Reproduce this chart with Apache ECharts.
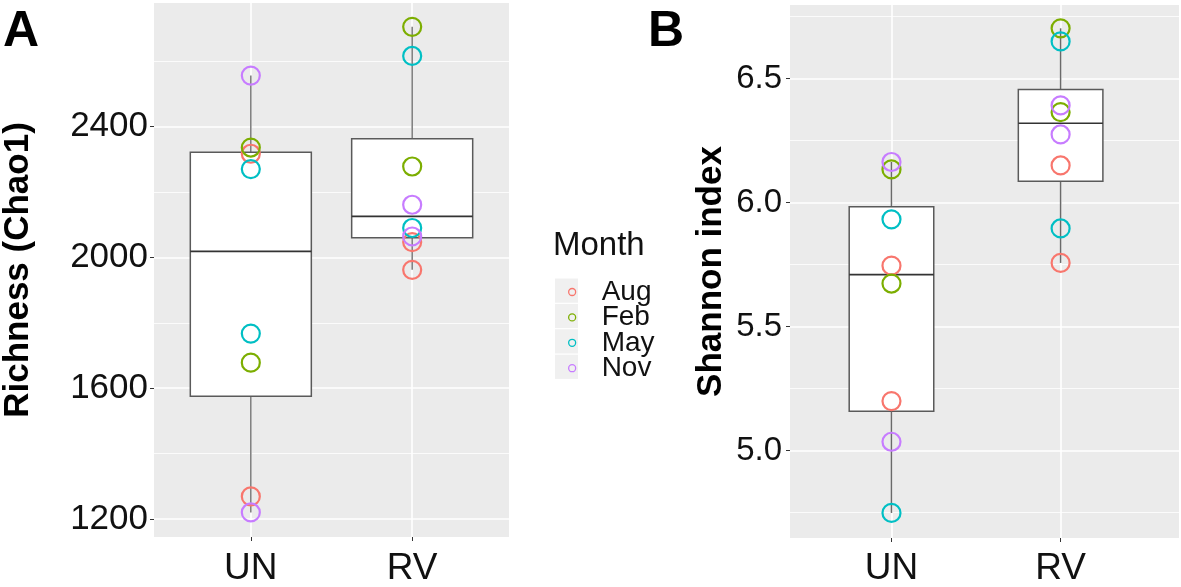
<!DOCTYPE html>
<html><head><meta charset="utf-8">
<script src="https://cdn.jsdelivr.net/npm/echarts@6/dist/echarts.min.js"></script>
<style>html,body{margin:0;padding:0;background:#fff}#c{width:1181px;height:587px}</style>
</head><body><div id="c"></div>
<script>
// ---- data ----
const groups = ['UN', 'RV'];
const months = ['Aug', 'Feb', 'May', 'Nov'];
const monthColors = ['#F8766D', '#7CAE00', '#00BFC4', '#C77CFF'];
// two samples per month, month order: Aug, Feb, May, Nov
const richnessUN = [[2317, 1269], [2336, 1678], [2270, 1767], [2556, 1220]];
const richnessRV = [[2047, 1962], [2705, 2278], [2616, 2090], [2161, 2064]];
const shannonUN = [[5.746, 5.200], [6.134, 5.674], [5.933, 4.749], [6.164, 5.036]];
const shannonRV = [[6.150, 5.757], [6.703, 6.365], [6.650, 5.896], [6.392, 6.275]];
const richnessTicks = [1200, 1600, 2000, 2400];
const richnessMinor = [1400, 1800, 2200, 2600];
const shannonTicks = [5.0, 5.5, 6.0, 6.5];
const shannonMinor = [4.75, 5.25, 5.75, 6.25, 6.75];

const FONT = '"Liberation Sans", Arial, sans-serif';

function quantile(s, p) {
  const h = (s.length - 1) * p, lo = Math.floor(h);
  const hiV = lo + 1 < s.length ? s[lo + 1] : s[lo];
  return s[lo] + (h - lo) * (hiV - s[lo]);
}
function boxStats(x, pairs) {
  const v = pairs.flat().slice().sort((a, b) => a - b);
  const q1 = quantile(v, 0.25), med = quantile(v, 0.5), q3 = quantile(v, 0.75);
  const iqr = q3 - q1;
  const lo = Math.min(...v.filter(d => d >= q1 - 1.5 * iqr));
  const hi = Math.max(...v.filter(d => d <= q3 + 1.5 * iqr));
  return [x, lo, q1, med, q3, hi];
}
function makeBoxRenderer(boxW, whiskerColor) {
  return function (params, api) {
    const x = api.value(0);
    const lo = api.coord([x, api.value(1)]);
    const q1 = api.coord([x, api.value(2)]);
    const md = api.coord([x, api.value(3)]);
    const q3 = api.coord([x, api.value(4)]);
    const hi = api.coord([x, api.value(5)]);
    const w = api.size([boxW, 0])[0];
    const cx = q1[0];
    return {
      type: 'group',
      children: [
        { type: 'line', shape: { x1: cx, y1: lo[1], x2: cx, y2: q1[1] }, style: { stroke: whiskerColor, lineWidth: 1.5 } },
        { type: 'line', shape: { x1: cx, y1: q3[1], x2: cx, y2: hi[1] }, style: { stroke: whiskerColor, lineWidth: 1.5 } },
        { type: 'rect', shape: { x: cx - w / 2, y: q3[1], width: w, height: q1[1] - q3[1] }, style: { fill: '#ffffff', stroke: '#5a5a5a', lineWidth: 1.5 } },
        { type: 'line', shape: { x1: cx - w / 2, y1: md[1], x2: cx + w / 2, y2: md[1] }, style: { stroke: '#333333', lineWidth: 1.6 } }
      ]
    };
  };
}
function gridLines(major, minor, xs) {
  const d = [];
  minor.forEach(v => d.push({ yAxis: v, lineStyle: { width: 0.8 } }));
  major.forEach(v => d.push({ yAxis: v, lineStyle: { width: 1.6 } }));
  xs.forEach(v => d.push({ xAxis: v, lineStyle: { width: 1.6 } }));
  return d;
}

const panels = [
  { un: richnessUN, rv: richnessRV, boxW: 0.75, whisker: '#7a7a7a', major: richnessTicks, minor: richnessMinor },
  { un: shannonUN, rv: shannonRV, boxW: 0.5, whisker: '#6a6a6a', major: shannonTicks, minor: shannonMinor }
];

const series = [];
panels.forEach((p, gi) => {
  series.push({
    type: 'custom',
    name: 'box' + gi,
    xAxisIndex: gi, yAxisIndex: gi,
    z: 2,
    silent: true,
    renderItem: makeBoxRenderer(p.boxW, p.whisker),
    encode: { x: 0, y: [1, 2, 3, 4, 5] },
    data: [boxStats(1, p.un), boxStats(2, p.rv)],
    markLine: {
      z: 1, silent: true, animation: false, symbol: ['none', 'none'],
      label: { show: false },
      lineStyle: { color: '#ffffff', type: 'solid', width: 1.6 },
      emphasis: { disabled: true },
      data: gridLines(p.major, p.minor, [1, 2])
    }
  });
  months.forEach((m, mi) => {
    const pts = [];
    p.un[mi].forEach(v => pts.push([1, v]));
    p.rv[mi].forEach(v => pts.push([2, v]));
    series.push({
      type: 'scatter', name: m, xAxisIndex: gi, yAxisIndex: gi, z: 3,
      symbol: 'circle', symbolSize: 18,
      itemStyle: { color: 'rgba(0,0,0,0)', borderColor: monthColors[mi], borderWidth: 2.2, opacity: 1 },
      data: pts
    });
  });
});

const xAxisCommon = {
  type: 'value',
  axisLine: { show: false },
  splitLine: { show: false },
  axisTick: { show: true, customValues: [1, 2], length: 4, lineStyle: { color: '#333' } },
  axisLabel: {
    customValues: [1, 2], fontSize: 37, color: '#111', fontFamily: FONT,
    formatter: v => groups[Math.round(v) - 1] || ''
  }
};

const option = {
  animation: false,
  grid: [
    { left: 154, top: 3, width: 355, height: 535, show: true, backgroundColor: '#EBEBEB', borderWidth: 0 },
    { left: 790, top: 5, width: 389, height: 536, show: true, backgroundColor: '#EBEBEB', borderWidth: 0 }
  ],
  xAxis: [
    Object.assign({}, xAxisCommon, { gridIndex: 0, min: 0.4, max: 2.6, axisLabel: Object.assign({}, xAxisCommon.axisLabel, { margin: 13 }) }),
    Object.assign({}, xAxisCommon, { gridIndex: 1, min: 0.4, max: 2.7, axisLabel: Object.assign({}, xAxisCommon.axisLabel, { margin: 12 }) })
  ],
  yAxis: [
    {
      type: 'value', gridIndex: 0, min: 1145, max: 2778,
      name: 'Richness (Chao1)', nameLocation: 'middle', nameGap: 118,
      nameTextStyle: { fontSize: 35, fontWeight: 'bold', color: '#000', fontFamily: FONT },
      axisLine: { show: false }, splitLine: { show: false },
      axisTick: { show: true, customValues: richnessTicks, length: 4, lineStyle: { color: '#333' } },
      axisLabel: { customValues: richnessTicks, fontSize: 35, color: '#111', fontFamily: FONT, margin: 6,
        formatter: v => String(Math.round(v)) }
    },
    {
      type: 'value', gridIndex: 1, min: 4.648, max: 6.797,
      name: 'Shannon index', nameLocation: 'middle', nameGap: 61,
      nameTextStyle: { fontSize: 35, fontWeight: 'bold', color: '#000', fontFamily: FONT },
      axisLine: { show: false }, splitLine: { show: false },
      axisTick: { show: true, customValues: shannonTicks, length: 4, lineStyle: { color: '#333' } },
      axisLabel: { customValues: shannonTicks, fontSize: 33, color: '#111', fontFamily: FONT, margin: 8,
        formatter: v => v.toFixed(1) }
    }
  ],
  legend: {
    data: months,
    orient: 'vertical', left: 563, top: 273,
    itemWidth: 7, itemHeight: 7, itemGap: -2.6,
    icon: 'circle',
    itemStyle: { borderWidth: 1.3 },
    textStyle: { fontSize: 28, color: '#111', fontFamily: FONT, padding: [0, 0, 0, 21] },
    selectedMode: false
  },
  graphic: [
    { type: 'text', left: 3, top: 7, style: { text: 'A', font: 'bold 50px ' + FONT, fill: '#000' } },
    { type: 'text', left: 648, top: 7, style: { text: 'B', font: 'bold 50px ' + FONT, fill: '#000' } },
    { type: 'text', left: 553, top: 229, style: { text: 'Month', font: '33px ' + FONT, fill: '#111' } },
    { type: 'rect', left: 555, top: 278.5, shape: { width: 23, height: 24.2 }, style: { fill: '#F0F0F0' }, z: -1 },
    { type: 'rect', left: 555, top: 303.9, shape: { width: 23, height: 24.2 }, style: { fill: '#F0F0F0' }, z: -1 },
    { type: 'rect', left: 555, top: 329.3, shape: { width: 23, height: 24.2 }, style: { fill: '#F0F0F0' }, z: -1 },
    { type: 'rect', left: 555, top: 354.7, shape: { width: 23, height: 24.2 }, style: { fill: '#F0F0F0' }, z: -1 }
  ],
  series: series
};

const chart = echarts.init(document.getElementById('c'), null, { renderer: 'canvas' });
chart.setOption(option);
</script>
</body></html>
